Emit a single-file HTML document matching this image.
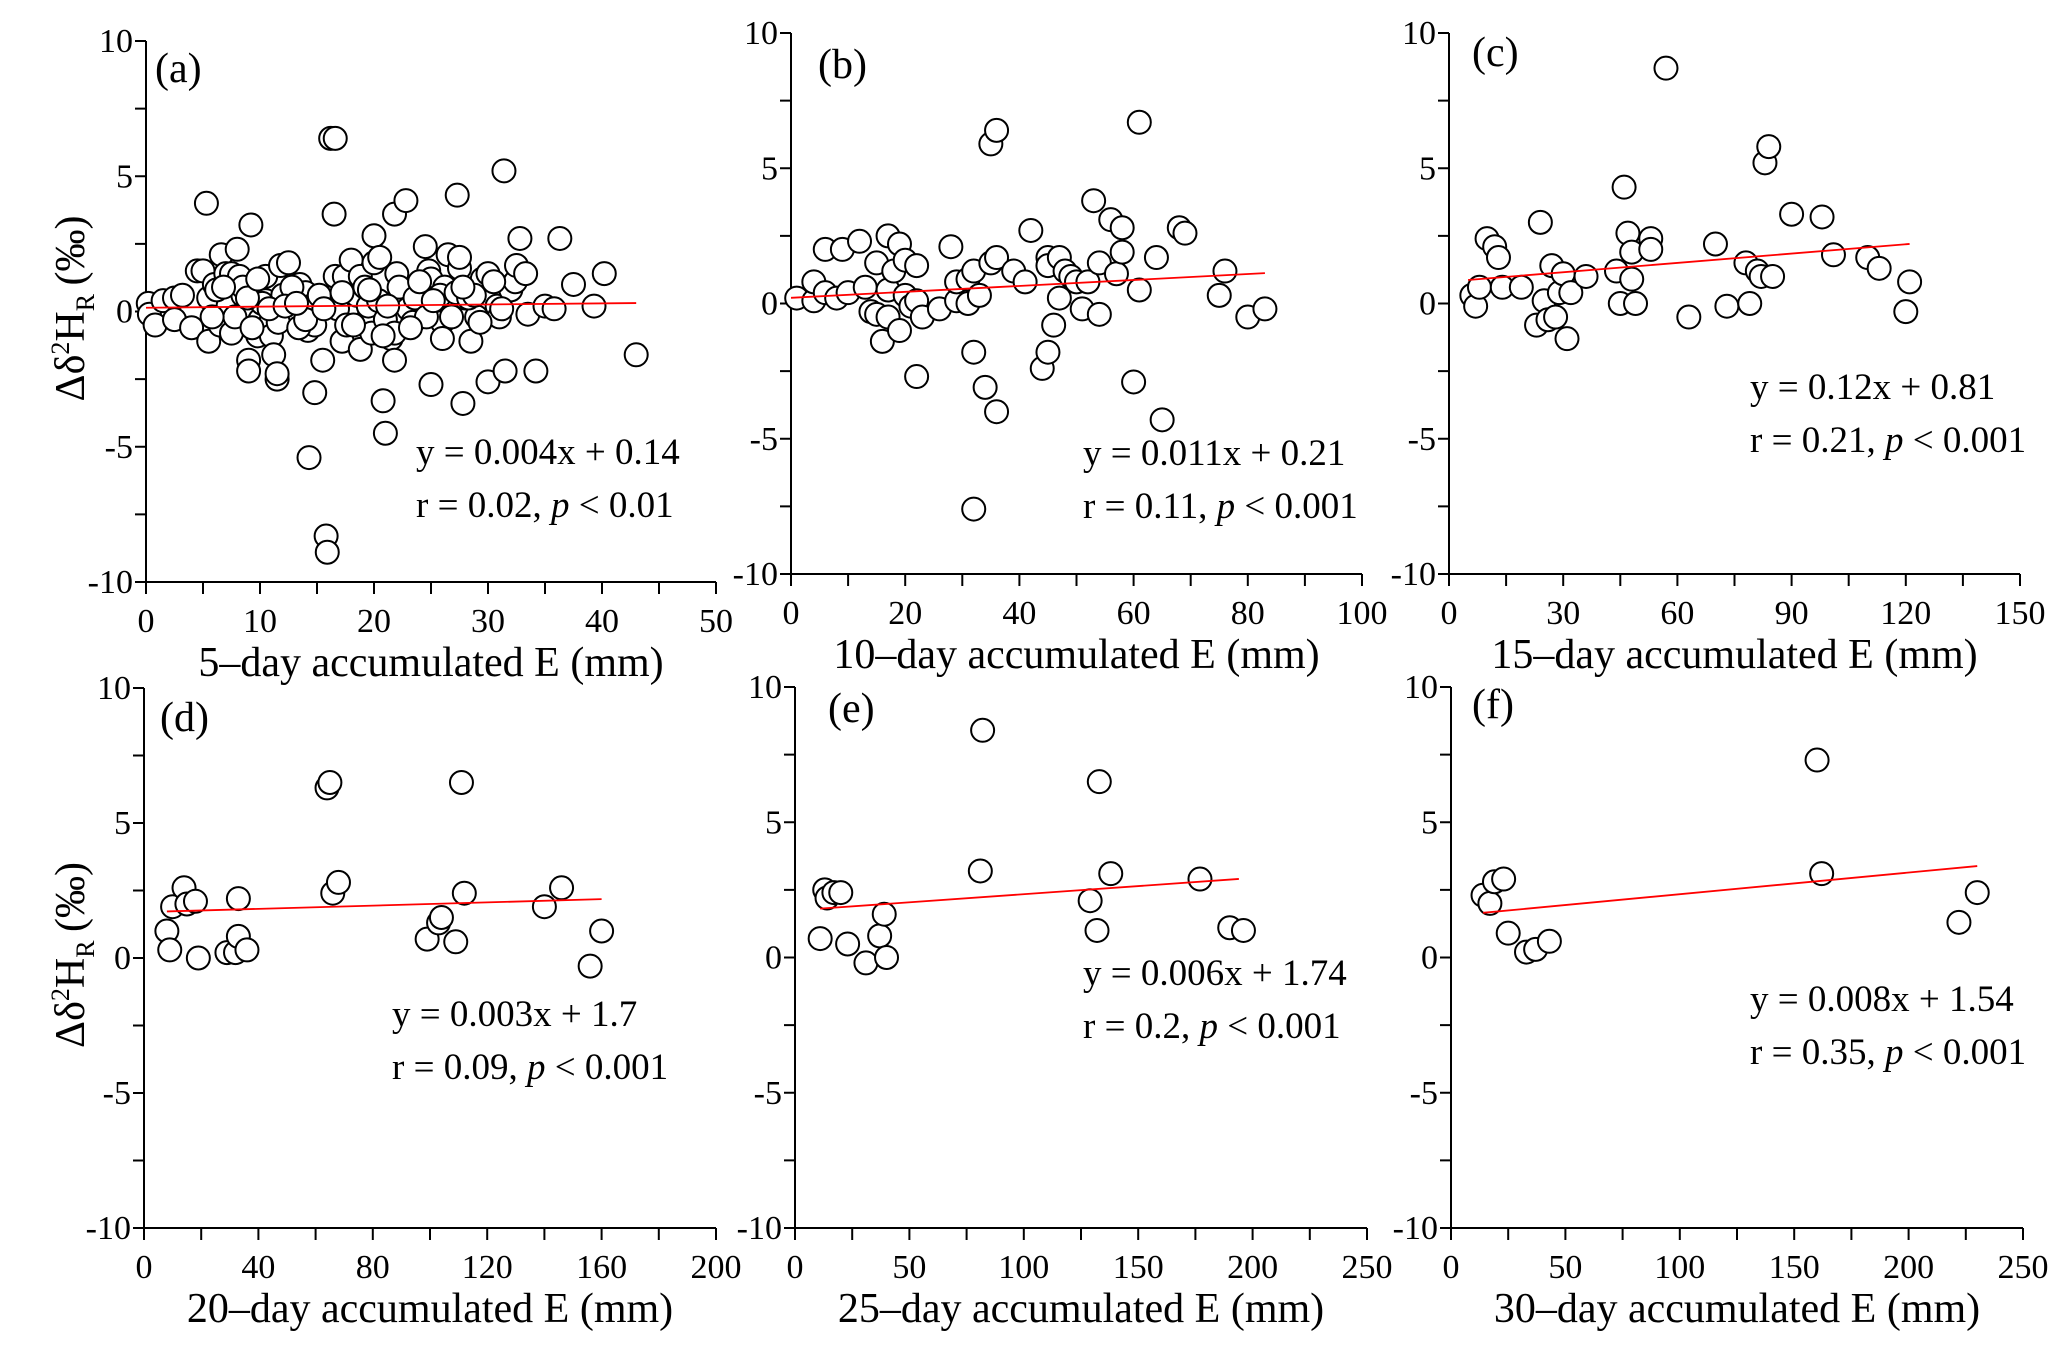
<!DOCTYPE html>
<html><head><meta charset="utf-8">
<style>
html,body{margin:0;padding:0;background:#fff;}
svg{display:block;}
svg text{font-family:"Liberation Serif","Times New Roman","Nimbus Roman","DejaVu Serif",serif;}
</style></head>
<body>
<svg id="chart" width="2067" height="1351" viewBox="0 0 2067 1351" xmlns="http://www.w3.org/2000/svg" font-family="Liberation Serif, serif"></svg>
<script>
// ---- data ----
const aX=[0.2,0.3,0.8,1.5,2.5,2.5,3.2,4,4.5,5,5.3,5.5,5.5,6,6.5,6.6,7,7.2,7.5,7.5,8,8.2,8.5,8.8,9,9,9.2,9.5,9.5,9.8,10,10.5,10.5,11,11,11.2,11.5,11.5,11.8,12,12.5,12.5,13,13.5,14,14.2,14.5,14.8,14.8,14.3,15.5,15.8,15.9,16.2,16.6,16.5,16.2,16.6,17,17.2,17.4,17.8,18,18.5,18.8,18.8,19.5,19.8,20,20,20.5,20.8,21,21,21.5,21.8,21.8,21.8,22,22.5,22.8,23,23.4,23.8,24.2,24.5,24.8,25,25,25.5,26,26,26,26.2,26.5,27,27.3,27.5,27.5,27.8,28,28.5,29,29.5,30,30,30.8,31,31.4,31.5,32,32.4,32.5,32.8,33.3,33.5,34.2,35,35.8,36.3,37.5,39.3,40.2,43,
6.2,7.8,8.5,9.3,10.2,11.6,12.8,13.4,15.2,16.8,17.6,19.2,20.4,22.2,23.6,24.6,25.8,27.2,28.3,29.3,5.8,8.9,10.8,12.2,14,15.6,18.2,19.6,21.2,23.2,25.2,26.8,28.8,30.5,6.8,9.8,13.2,17.2,20.8,24,27.8,31.2];
const aY=[0.3,-0.1,-0.5,0.4,0.5,-0.3,0.6,-0.6,1.5,1.5,4.0,0.5,-1.1,1.0,-0.5,2.1,1.4,0.2,1.4,-0.8,2.3,1.3,0.6,0,-1.8,-2.2,3.2,1.0,0.8,-0.9,-0.3,1.3,0.4,-0.3,-0.9,-1.6,-2.5,-2.3,1.7,0.6,1.8,-0.2,0.7,1.0,0.7,-0.7,0.2,-0.5,-3.0,-5.4,-1.8,-8.3,-8.9,6.4,6.4,3.6,0.5,1.3,0.3,-1.1,1.3,0.2,1.9,0.6,1.3,-1.4,0.2,-0.8,2.8,1.8,2.0,-3.3,-4.5,-0.3,-1.0,3.6,-0.8,-1.8,1.4,0.6,4.1,0.1,-0.4,0.6,0.8,2.4,1.5,1.2,-2.7,0.3,0.1,-0.4,-1.0,0.9,2.1,0.4,4.3,1.6,2.0,-3.4,0.5,-1.1,-0.2,1.2,1.4,-2.6,0.2,-0.2,5.2,-2.2,0.8,1.1,1.7,2.7,1.4,-0.1,-2.2,0.2,0.1,2.7,1.0,0.2,1.4,-1.6,
0.8,-0.2,0.9,-0.6,0.3,-0.4,0.9,-0.6,0.6,0.1,-0.5,0.9,0.4,0.9,0.5,-0.2,0.6,0.7,0.5,-0.4,-0.2,0.5,0.1,0.2,-0.3,0.1,-0.5,0.8,0.2,-0.6,0.4,-0.2,0.6,1.1,0.9,1.2,0.3,0.7,-0.9,1.1,0.9,0.1];
const bX=[1,4,4,6,6,8,9,10,12,13,14,15,15,16,17,17,17,18,19,19,20,20,21,22,22,22,23,26,28,29,29,31,31,32,32,32,33,34,35,35,36,36,36,39,41,42,44,45,45,45,46,47,47,48,49,50,51,52,53,54,54,56,57,58,58,60,61,61,64,65,68,69,75,76,80,83];
const bY=[0.2,0.1,0.8,2.0,0.4,0.2,2.0,0.4,2.3,0.6,-0.3,1.5,-0.4,-1.4,2.5,-0.5,0.5,1.2,2.2,-1.0,0.3,1.6,-0.1,0.1,1.4,-2.7,-0.5,-0.2,2.1,0.1,0.8,0.9,0,1.2,-1.8,-7.6,0.3,-3.1,1.5,5.9,6.4,-4.0,1.7,1.2,0.8,2.7,-2.4,-1.8,1.7,1.4,-0.8,0.2,1.7,1.2,1.0,0.8,-0.2,0.8,3.8,1.5,-0.4,3.1,1.1,2.8,1.9,-2.9,6.7,0.5,1.7,-4.3,2.8,2.6,0.3,1.2,-0.5,-0.2];
const cX=[6,7,8,10,12,13,14,19,23,24,25,26,27,28,29,30,31,32,36,44,45,46,47,48,48,49,53,53,57,63,70,73,78,79,81,82,83,84,85,90,98,101,110,113,120,121];
const cY=[0.3,-0.1,0.6,2.4,2.1,1.7,0.6,0.6,-0.8,3.0,0.1,-0.6,1.4,-0.5,0.4,1.1,-1.3,0.4,1.0,1.2,0,4.3,2.6,0.9,1.9,0,2.4,2.0,8.7,-0.5,2.2,-0.1,1.5,0,1.2,1.0,5.2,5.8,1.0,3.3,3.2,1.8,1.7,1.3,-0.3,0.8];
const dX=[8,9,10,14,15,18,19,29,32,33,33,36,64,65,66,68,99,103,104,109,111,112,140,146,156,160];
const dY=[1.0,0.3,1.9,2.6,2.0,2.1,0,0.2,0.2,2.2,0.8,0.3,6.3,6.5,2.4,2.8,0.7,1.3,1.5,0.6,6.5,2.4,1.9,2.6,-0.3,1.0];
const eX=[11,13,14,17,20,23,31,37,39,40,81,82,129,132,133,138,177,190,196];
const eY=[0.7,2.5,2.2,2.4,2.4,0.5,-0.2,0.8,1.6,0,3.2,8.4,2.1,1.0,6.5,3.1,2.9,1.1,1.0];
const fX=[14,17,19,23,25,33,37,43,160,162,222,230];
const fY=[2.3,2.0,2.8,2.9,0.9,0.2,0.3,0.6,7.3,3.1,1.3,2.4];
// fit lines: [intercept, slope, xStart, xEnd]
const aFit=[0.14,0.004,0,43];
const bFit=[0.21,0.011,0,83];
const cFit=[0.81,0.0115,5,121];
const dFit=[1.7,0.003,8,160];
const eFit=[1.74,0.006,11,194];
const fFit=[1.54,0.008,14,230];
const aTicks=[0,10,20,30,40,50];
const bTicks=[0,20,40,60,80,100];
const cTicks=[0,30,60,90,120,150];
const dTicks=[0,40,80,120,160,200];
const eTicks=[0,50,100,150,200,250];
const fTicks=[0,50,100,150,200,250];
const yTicks=[-10,-5,0,5,10];
const aEq=["y = 0.004x + 0.14","0.02","0.01"];
const bEq=["y = 0.011x + 0.21","0.11","0.001"];
const cEq=["y = 0.12x + 0.81","0.21","0.001"];
const dEq=["y = 0.003x + 1.7","0.09","0.001"];
const eEq=["y = 0.006x + 1.74","0.2","0.001"];
const fEq=["y = 0.008x + 1.54","0.35","0.001"];

const NS="http://www.w3.org/2000/svg";
const FF='"Liberation Serif","Times New Roman",serif';
const svg=document.getElementById('chart');
function mk(tag,attrs,parent){const e=document.createElementNS(NS,tag);for(const k in attrs)e.setAttribute(k,attrs[k]);if(tag==='text')e.style.fontFamily=FF;(parent||svg).appendChild(e);return e;}

const panels=[
 {id:'a',x0:146,x1:716,yt:41,yb:582,xmax:50,minor:5,X:aX,Y:aY,fit:aFit,ticks:aTicks,eq:aEq,title:'5\u2013day accumulated E (mm)',lab:[155,82],eqPos:[416,464],ytitle:true},
 {id:'b',x0:791,x1:1362,yt:33,yb:574,xmax:100,minor:10,X:bX,Y:bY,fit:bFit,ticks:bTicks,eq:bEq,title:'10\u2013day accumulated E (mm)',lab:[818,78],eqPos:[1083,465]},
 {id:'c',x0:1449,x1:2020,yt:33,yb:574,xmax:150,minor:15,X:cX,Y:cY,fit:cFit,ticks:cTicks,eq:cEq,title:'15\u2013day accumulated E (mm)',lab:[1472,66],eqPos:[1750,399]},
 {id:'d',x0:144,x1:716,yt:688,yb:1228,xmax:200,minor:20,X:dX,Y:dY,fit:dFit,ticks:dTicks,eq:dEq,title:'20\u2013day accumulated E (mm)',lab:[160,731],eqPos:[392,1026],ytitle:true},
 {id:'e',x0:795,x1:1367,yt:687,yb:1228,xmax:250,minor:25,X:eX,Y:eY,fit:eFit,ticks:eTicks,eq:eEq,title:'25\u2013day accumulated E (mm)',lab:[828,722],eqPos:[1083,985]},
 {id:'f',x0:1451,x1:2023,yt:687,yb:1228,xmax:250,minor:25,X:fX,Y:fY,fit:fFit,ticks:fTicks,eq:fEq,title:'30\u2013day accumulated E (mm)',lab:[1472,718],eqPos:[1750,1011]}
];

panels.forEach(p=>{
  const g=mk('g',{});
  
  
  const sx=v=>p.x0+(p.x1-p.x0)*v/p.xmax;
  const sy=v=>p.yb-(p.yb-p.yt)*(v+10)/20;
  const ax=mk('path',{d:`M${p.x0} ${p.yt}V${p.yb}H${p.x1}`,fill:'none',stroke:'#000','stroke-width':2},g);
  
  
  for(let v=0;v<=p.xmax+1e-9;v+=p.minor){
    const t=mk('line',{x1:sx(v),x2:sx(v),y1:p.yb,y2:p.yb+12,stroke:'#000','stroke-width':2},g);
    
    
  }
  p.ticks.forEach(v=>{
    const t=mk('text',{x:sx(v),y:p.yb+50,'text-anchor':'middle','font-size':34},g);
    t.textContent=v;
    
    
  });
  for(let v=-10;v<=10;v+=2.5){
    const t=mk('line',{x1:p.x0-11,x2:p.x0,y1:sy(v),y2:sy(v),stroke:'#000','stroke-width':2},g);
    
    
  }
  yTicks.forEach(v=>{
    const t=mk('text',{x:p.x0-13,y:sy(v)+11,'text-anchor':'end','font-size':34},g);
    t.textContent=v;
    
    
  });
  const xt=mk('text',{x:(p.x0+p.x1)/2,y:p.yb+94,'text-anchor':'middle','font-size':42},g);
  xt.textContent=p.title;
  
  
  const lb=mk('text',{x:p.lab[0],y:p.lab[1],'font-size':42},g);
  lb.textContent='('+p.id+')';
  
  
  p.X.forEach((xv,i)=>{
    const c=mk('circle',{cx:sx(xv),cy:sy(p.Y[i]),r:11.5,fill:'#fff',stroke:'#000','stroke-width':2},g);
    
    
  });
  const f=p.fit;
  const fl=mk('line',{x1:sx(f[2]),y1:sy(f[0]+f[1]*f[2]),x2:sx(f[3]),y2:sy(f[0]+f[1]*f[3]),stroke:'#ff0000','stroke-width':1.8},g);
  
  
  const e1=mk('text',{x:p.eqPos[0],y:p.eqPos[1],'font-size':37},g);
  e1.textContent=p.eq[0];
  
  
  const e2=mk('text',{x:p.eqPos[0],y:p.eqPos[1]+53,'font-size':37},g);
  
  
  e2.appendChild(document.createTextNode('r = '+p.eq[1]+', '));
  const pi=mk('tspan',{'font-style':'italic'},e2);pi.textContent='p';
  e2.appendChild(document.createTextNode(' < '+p.eq[2]));
  if(p.ytitle){
    const cy=(p.yt+p.yb)/2-3;
    const yt=mk('text',{transform:`translate(84 ${cy}) rotate(-90)`,'text-anchor':'middle','font-size':42},g);
    
    
    yt.appendChild(document.createTextNode('\u0394\u03b4'));
    const s1=mk('tspan',{dy:-15,'font-size':26},yt);s1.textContent='2';
    const s2=mk('tspan',{dy:15},yt);s2.textContent='H';
    const s3=mk('tspan',{dy:10,'font-size':26},yt);s3.textContent='R';
    const s4=mk('tspan',{dy:-10},yt);s4.textContent='\u2009(\u2030)';
  }
});
</script>
</body></html>
